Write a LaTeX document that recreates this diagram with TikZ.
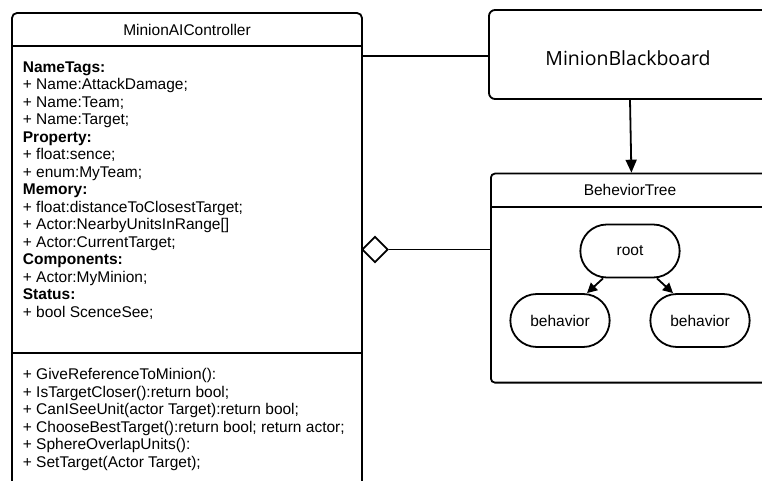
\documentclass[tikz,border=0pt]{standalone}
\usepackage{fontspec}
\setmainfont{Liberation Sans}
\newfontfamily\boardfont{Open Sans}
\usetikzlibrary{arrows.meta, shapes.geometric, shapes.misc}

\tikzset{
    umltext/.style = {anchor = north west, align = left, inner sep = 0pt},
    statenode/.style = {draw, rounded rectangle, minimum width = 106pt, minimum height = 53pt},
}

\begin{document}
\begin{tikzpicture}[%
        x = 1pt, y = -1pt,
        line width = 1.8pt,
        > = {Triangle[length = 13pt, width = 11pt]},
        font = \fontsize{15.5}{17.5}\selectfont,
    ]

        % Visible area of the page.
        \useasboundingbox (0, 0) rectangle (762, 481);
        \clip (0, 0) rectangle (762, 481);

        % The controller class, open at the bottom.
        \coordinate (ctl-nw) at (12, 13);
        \coordinate (ctl-ne) at (362, 13);
        \draw[rounded corners = 5pt] (12, 495) -- (ctl-nw) -- (ctl-ne) -- (362, 495);
        \draw (12, 46) -- (362, 46);
        \draw (12, 353) -- (362, 353);
        \node (ctl-title) at (187, 30) {MinionAIController};

        % Attributes and operations.
        \node[umltext] (ctl-attrs) at (22, 60.5) {%
            \textbf{NameTags:}\\
            + Name:AttackDamage;\\
            + Name:Team;\\
            + Name:Target;\\
            \textbf{Property:}\\
            + float:sence;\\
            + enum:MyTeam;\\
            \textbf{Memory:}\\
            + float:distanceToClosestTarget;\\
            + Actor:NearbyUnitsInRange[]\\
            + Actor:CurrentTarget;\\
            \textbf{Components:}\\
            + Actor:MyMinion;\\
            \textbf{Status:}\\
            + bool ScenceSee;};
        \node[umltext] (ctl-ops) at (22, 367.5) {%
            + GiveReferenceToMinion():\\
            + IsTargetCloser():return bool;\\
            + CanISeeUnit(actor Target):return bool;\\
            + ChooseBestTarget():return bool; return actor;\\
            + SphereOverlapUnits():\\
            + SetTarget(Actor Target);};

        % The blackboard.
        \node[draw, rounded corners = 6pt, minimum width = 282pt, minimum height = 89pt]
            (board) at (630, 54.5) {};
        \node[font = \boardfont\fontsize{19.5}{22}\selectfont] (board-title) at (628, 58) {MinionBlackboard};

        % The behaviour tree with its nodes.
        \node[draw, rounded corners = 4pt, minimum width = 281pt, minimum height = 209pt, anchor = north west]
            (tree) at (490, 172.7) {};
        \draw (490, 206.7) -- (772, 206.7);
        \node (tree-title) at (630, 189.5) {BeheviorTree};
        \node[statenode] (root) at (630, 251) {root};
        \node[statenode] (beh-left) at (560, 320.5) {behavior};
        \node[statenode] (beh-right) at (700, 320.5) {behavior};

        % Links between the boxes.
        \coordinate (ctl-link) at (362, 56);
        \draw (ctl-link) -- (ctl-link -| board.west);
        \draw[->] (board.south) -- (tree.north);
        \node[draw, diamond, fill = white, inner sep = 0pt, minimum width = 26pt, minimum height = 26pt, anchor = west]
            (agg) at (361, 249.5) {};
        \draw (agg.east) -- (agg.east -| tree.west);

        % Edges of the tree.
        \begin{scope}[> = {Triangle[length = 10pt, width = 10pt]}]
            \draw[->] ([xshift = -27pt] root.south) -- ([xshift = 27pt] beh-left.north);
            \draw[->] ([xshift = 27pt] root.south) -- ([xshift = -27pt] beh-right.north);
        \end{scope}
    \end{tikzpicture}
\end{document}
